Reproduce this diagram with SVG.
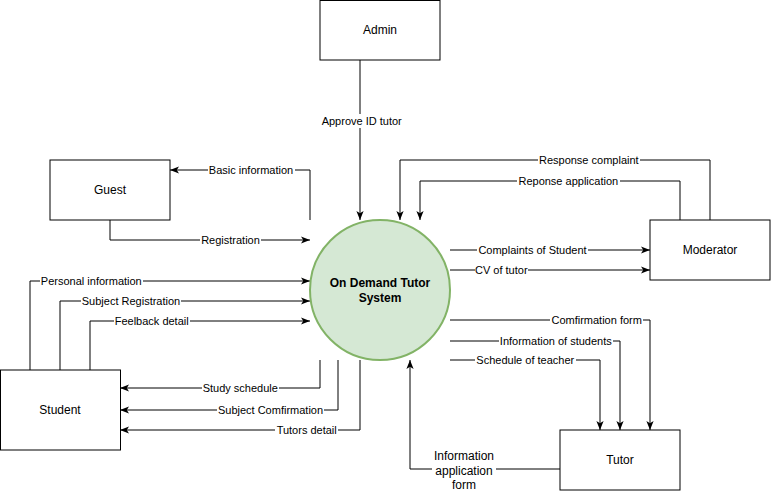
<svg xmlns="http://www.w3.org/2000/svg" width="771" height="492" viewBox="0 0 771 492">
<style>
.box{fill:#ffffff;stroke:#000000;stroke-width:1}
.nt{font-family:"Liberation Sans",Arial,sans-serif;font-size:12px;fill:#000;text-anchor:middle}
.lb{font-family:"Liberation Sans",Arial,sans-serif;font-size:11px;fill:#000;text-anchor:middle}
.bg{fill:#ffffff}
.ln{fill:none;stroke:#000;stroke-width:1;marker-end:url(#arr)}
.lp{fill:none;stroke:#000;stroke-width:1}
</style>
<defs>
<marker id="arr" viewBox="0 0 10 10" refX="10" refY="5" markerWidth="9" markerHeight="9" markerUnits="userSpaceOnUse" orient="auto">
<path d="M0,1 L10,5 L0,9 L2.5,5 z" fill="#000"/>
</marker>
</defs>
<rect width="771" height="492" fill="#ffffff"/>
<g id="connectors">
<path class="ln" d="M360,60 V220"/>
<path class="ln" d="M310,220 V170 H170"/>
<path class="ln" d="M110,220 V240 H310"/>
<path class="ln" d="M30,370 V281 H310"/>
<path class="ln" d="M60,370 V301 H310"/>
<path class="ln" d="M90,370 V321 H310"/>
<path class="ln" d="M320,360 V388 H120"/>
<path class="ln" d="M338,360 V410 H120"/>
<path class="ln" d="M360,360 V430 H120"/>
<path class="ln" d="M710,220 V160 H400 V220"/>
<path class="ln" d="M680,220 V181 H420 V220"/>
<path class="ln" d="M450,250 H650"/>
<path class="ln" d="M450,270 H650"/>
<path class="ln" d="M450,320 H650 V430"/>
<path class="ln" d="M450,341 H620 V430"/>
<path class="ln" d="M450,360 H600 V430"/>
<path class="ln" d="M560,469 H410 V360"/>
<g id="labels">
<rect class="bg" x="320" y="114" width="83" height="14"/><text class="lb" x="361.7" y="125">Approve ID tutor</text>
<rect class="bg" x="208" y="163" width="87" height="14"/><text class="lb" x="251" y="174">Basic information</text>
<rect class="bg" x="200" y="233" width="61" height="14"/><text class="lb" x="230.5" y="244">Registration</text>
<rect class="bg" x="40" y="274" width="103" height="14"/><text class="lb" x="91.3" y="285">Personal information</text>
<rect class="bg" x="81" y="294" width="100" height="14"/><text class="lb" x="131" y="305">Subject Registration</text>
<rect class="bg" x="114" y="314" width="76" height="14"/><text class="lb" x="151.7" y="325">Feelback detail</text>
<rect class="bg" x="202" y="381" width="77" height="14"/><text class="lb" x="240.3" y="392">Study schedule</text>
<rect class="bg" x="217" y="403" width="107" height="14"/><text class="lb" x="270.5" y="414">Subject Comfirmation</text>
<rect class="bg" x="275" y="423" width="63" height="14"/><text class="lb" x="306.7" y="434">Tutors detail</text>
<rect class="bg" x="538" y="153" width="102" height="14"/><text class="lb" x="588.8" y="164">Response complaint</text>
<rect class="bg" x="517" y="174" width="103" height="14"/><text class="lb" x="568.3" y="185">Reponse application</text>
<rect class="bg" x="477" y="243" width="111" height="14"/><text class="lb" x="532.5" y="254">Complaints of Student</text>
<rect class="bg" x="475" y="263" width="53" height="14"/><text class="lb" x="501.3" y="274">CV of tutor</text>
<rect class="bg" x="550" y="313" width="93" height="14"/><text class="lb" x="596.7" y="324">Comfirmation form</text>
<rect class="bg" x="499" y="334" width="114" height="14"/><text class="lb" x="555.8" y="345">Information of students</text>
<rect class="bg" x="475" y="353" width="101" height="14"/><text class="lb" x="525.3" y="364">Schedule of teacher</text>
<rect class="bg" x="432" y="448" width="64" height="44"/>
<text class="nt" x="464" y="460">Information</text>
<text class="nt" x="464" y="474.5">application</text>
<text class="nt" x="464" y="489">form</text>
</g>
</g>
<g id="admin"><rect class="box" x="320" y="0.5" width="120" height="59.5"/><text class="nt" x="380" y="34">Admin</text></g>
<g id="guest"><rect class="box" x="50" y="160" width="120" height="60"/><text class="nt" x="110" y="194">Guest</text></g>
<g id="student"><rect class="box" x="0.5" y="370" width="120" height="80"/><text class="nt" x="60" y="414">Student</text></g>
<g id="moderator"><rect class="box" x="650" y="220" width="120" height="60"/><text class="nt" x="710" y="254">Moderator</text></g>
<g id="tutor"><rect class="box" x="560" y="430" width="120" height="60"/><text class="nt" x="620" y="464">Tutor</text></g>
<g id="system"><circle cx="380" cy="290" r="70" fill="#d5e8d4" stroke="#82b366" stroke-width="2"/>
<text class="nt" x="380" y="287" font-weight="bold">On Demand Tutor</text>
<text class="nt" x="380" y="302" font-weight="bold">System</text></g>
</svg>
